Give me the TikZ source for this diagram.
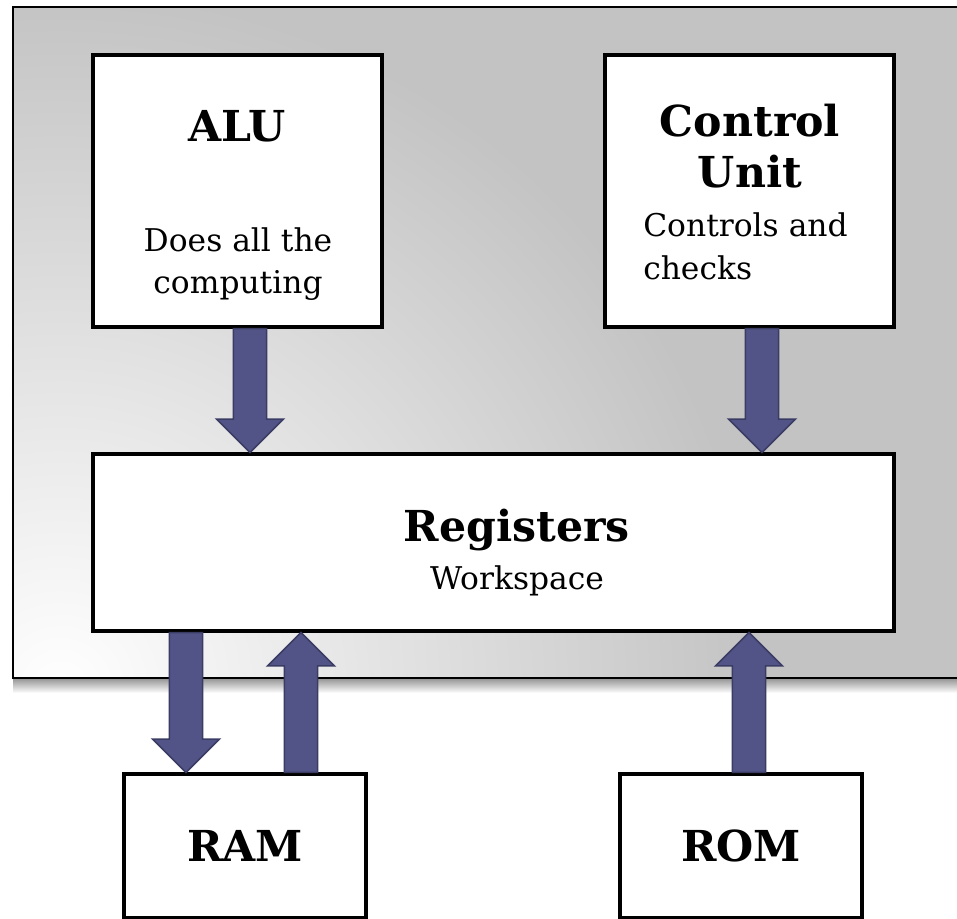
\documentclass[tikz,border=0pt]{standalone}
\usepackage{fontspec}
\setmainfont{DejaVu Serif}
\usetikzlibrary{calc}

\definecolor{panelgray}{RGB}{195,195,195}
\definecolor{arrowfill}{RGB}{82,84,135}
\definecolor{arrowline}{RGB}{58,60,100}

\tikzset{
  unitbox/.style={draw=black, line width=2.4pt, fill=white, inner sep=0pt},
  titletext/.style={font=\bfseries\fontsize{32}{38}\selectfont, inner sep=0pt, align=center},
  bodytext/.style={font=\fontsize{23.5}{32}\selectfont, inner sep=0pt},
  blockarrow/.style={fill=arrowfill, draw=arrowline, line width=1.2pt, line join=miter},
}

% fat arrow from #1 to #2 (vertical only)
\newcommand{\blockarrow}[2]{%
  \filldraw[blockarrow] let \p1=(#1), \p2=(#2), \n1={(\y2>\y1)*2-1} in
    ({\x1-12.5pt},\y1) -- ({\x1-12.5pt},{\y2-(\n1)*25pt}) -- ({\x1-25pt},{\y2-(\n1)*25pt})
    -- (\x2,\y2) -- ({\x1+25pt},{\y2-(\n1)*25pt}) -- ({\x1+12.5pt},{\y2-(\n1)*25pt})
    -- ({\x1+12.5pt},\y1) -- cycle;}

\begin{document}
\begin{tikzpicture}[x=0.75pt,y=-0.75pt]
\useasboundingbox (0,0) rectangle (957,919);
\clip (0,0) rectangle (957,919);

%Shape: Panel with shading
\begin{scope}
  \clip (13,7) rectangle (970,678);
  \fill[panelgray] (13,7) rectangle (970,678);
  \shade[inner color=white, outer color=panelgray] (60,690) circle (700);
\end{scope}
\shade[top color=black!40, bottom color=white] (13,679) rectangle (970,693);
\draw[line width=1.8pt] (13,7) rectangle (970,678);

%Shape: Rectangle
\node[unitbox, minimum width=216.75pt, minimum height=204pt] (alu) at (237.5,191) {};
%Shape: Rectangle
\node[unitbox, minimum width=216.75pt, minimum height=204pt] (cu) at (749.5,191) {};
%Shape: Rectangle
\node[unitbox, minimum width=600.75pt, minimum height=132.75pt] (reg) at (493.5,542.5) {};
%Shape: Rectangle
\node[unitbox, minimum width=181.5pt, minimum height=108pt] (ram) at (245,846) {};
%Shape: Rectangle
\node[unitbox, minimum width=181.5pt, minimum height=108pt] (rom) at (741,846) {};

% Text Node
\node[titletext] (alu-title) at (237,126) {ALU};
% Text Node
\node[bodytext, align=center] (alu-desc) at (238,264) {Does all the\\computing};
% Text Node
\node[titletext] (cu-title) at (750,146) {Control\\Unit};
% Text Node
\node[bodytext, align=left, anchor=west] (cu-desc) at (643,246) {Controls and\\checks};
% Text Node
\node[bodytext, align=center] (reg-title) at (517,553)
  {{\bfseries\fontsize{32}{34}\selectfont Registers}\\[4pt]Workspace};
% Text Node
\node[titletext] (ram-title) at (245,846) {RAM};
% Text Node
\node[titletext] (rom-title) at (741,846) {ROM};

% arrow lanes
\coordinate (lane-alu) at (250,0);
\coordinate (lane-cu) at (762,0);
\coordinate (lane-ramin) at (186,0);
\coordinate (lane-ramout) at (301,0);
\coordinate (lane-rom) at (749,0);

%Block Arrows
\blockarrow{alu.south -| lane-alu}{reg.north -| lane-alu}
\blockarrow{cu.south -| lane-cu}{reg.north -| lane-cu}
\blockarrow{reg.south -| lane-ramin}{ram.north -| lane-ramin}
\blockarrow{ram.north -| lane-ramout}{reg.south -| lane-ramout}
\blockarrow{rom.north -| lane-rom}{reg.south -| lane-rom}

\end{tikzpicture}
\end{document}
